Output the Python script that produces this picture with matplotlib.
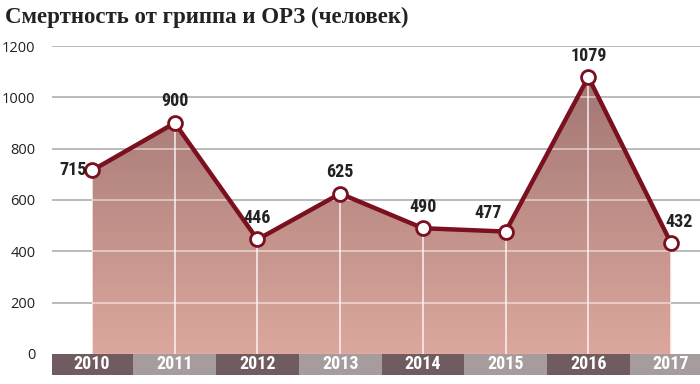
import matplotlib
matplotlib.use("Agg")
import matplotlib.pyplot as plt
import numpy as np
from matplotlib.patches import Polygon, Rectangle
from matplotlib.colors import LinearSegmentedColormap
from matplotlib import font_manager

years = ["2010", "2011", "2012", "2013", "2014", "2015", "2016", "2017"]
deaths = [715, 900, 446, 625, 490, 477, 1079, 432]
yticks = [0, 200, 400, 600, 800, 1000, 1200]
title = "Смертность от гриппа и ОРЗ (человек)"

available = {f.name for f in font_manager.fontManager.ttflist}
narrow = [f for f in ["Roboto Condensed", "Liberation Sans Narrow", "Open Sans Condensed",
                      "Noto Sans Condensed", "DejaVu Sans Condensed"] if f in available]
condensed_found = bool(narrow)
narrow = narrow + ["Roboto", "DejaVu Sans"]
line_color = "#7a1020"

fig = plt.figure(figsize=(7, 3.84), dpi=100)
ax = fig.add_axes([52/700, 9/384, 1 - 52/700, (375-46)/384])
x = np.arange(len(years))
ymin = -82
ax.set_xlim(-0.484, 7.35)
ax.set_ylim(ymin, 1200)
for s in ax.spines.values():
    s.set_visible(False)
ax.set_xticks([])
ax.set_yticks(yticks)
ax.set_yticklabels([str(v) for v in yticks], family=["Open Sans", "DejaVu Sans"], fontsize=10.5, color="#222222")
ax.tick_params(axis="y", length=0, pad=12)

for v in yticks[1:]:
    ax.axhline(v, color="#b5b5b5", lw=1.3, zorder=0)

verts = [(x[0], 0)] + list(zip(x, deaths)) + [(x[-1], 0)]
poly = Polygon(verts, closed=True, facecolor="none", edgecolor="none")
ax.add_patch(poly)
cmap = LinearSegmentedColormap.from_list("g", ["#dca89d", "#a37674"])
grad = np.linspace(0, 1, 256).reshape(-1, 1)
im = ax.imshow(grad, cmap=cmap, origin="lower", aspect="auto",
               extent=[x[0], x[-1], 0, max(deaths)], zorder=1)
im.set_clip_path(poly)

for v in yticks[1:]:
    l = ax.axhline(v, color="white", lw=1.2, alpha=0.55, zorder=2)
    l.set_clip_path(poly)
for xi in x:
    l = ax.axvline(xi, color="white", lw=1.2, alpha=0.8, zorder=2)
    l.set_clip_path(poly)

ax.plot(x, deaths, color=line_color, lw=3.2, zorder=3, solid_joinstyle="round", clip_on=False)
ax.plot(x, deaths, "o", ms=10, mfc="white", mec=line_color, mew=2, zorder=4, clip_on=False)

fs = 13 if condensed_found else 11.5
offsets = {
    0: (-4, 0, "right", "center"),
    1: (0, 9, "center", "bottom"),
    2: (0, 9, "center", "bottom"),
    3: (0, 9, "center", "bottom"),
    4: (0, 9, "center", "bottom"),
    5: (-3, 7, "right", "bottom"),
    6: (0, 9, "center", "bottom"),
    7: (6, 9, "center", "bottom"),
}
for i, v in enumerate(deaths):
    dx, dy, ha, va = offsets[i]
    ax.annotate(str(v), (x[i], v), xytext=(dx, dy), textcoords="offset points",
                ha=ha, va=va, fontsize=fs, fontweight="bold", family=narrow,
                color="#222222", zorder=5)

box_colors = ["#6f5b60", "#a69b9d"]
for i, yr in enumerate(years):
    r = Rectangle((x[i] - 0.5, ymin), 1.0, -ymin, facecolor=box_colors[i % 2],
                  edgecolor="none", zorder=5, clip_on=True)
    ax.add_patch(r)
    ax.text(x[i], ymin / 2, yr, ha="center", va="center", color="white",
            fontsize=fs, fontweight="bold", family=narrow, zorder=6)

fig.text(5/700, 1 - 17/384, title, ha="left", va="center", fontsize=16.5,
         family=["Liberation Serif", "DejaVu Serif"], fontweight="bold", color="#222222")

fig.savefig("out.png", dpi=100)
